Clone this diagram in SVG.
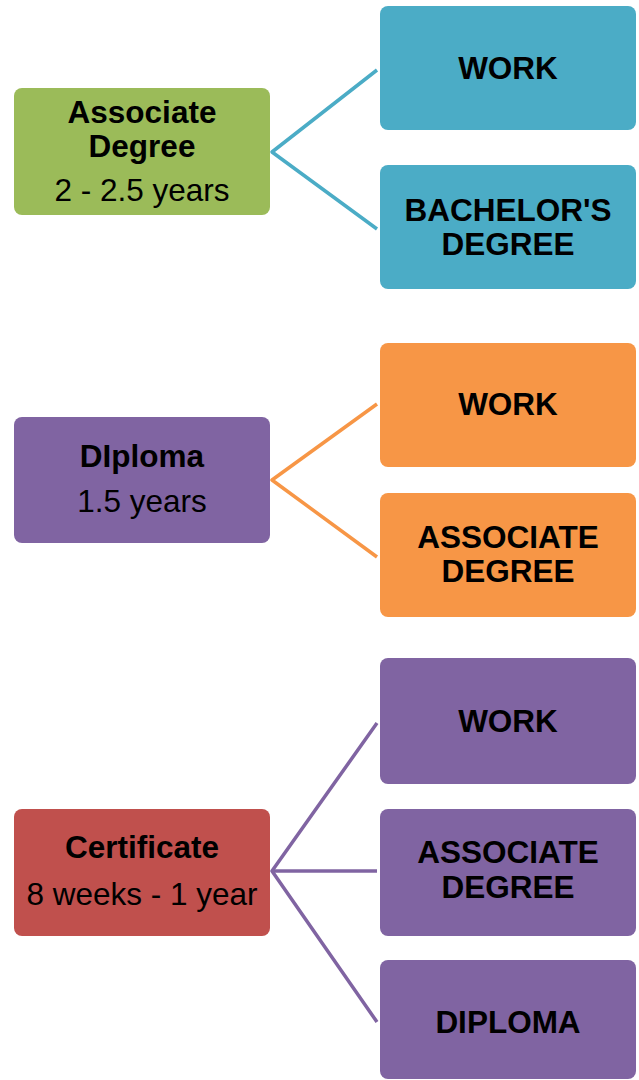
<svg xmlns="http://www.w3.org/2000/svg" width="639" height="1080" viewBox="0 0 639 1080">
<style>
.t{font-family:"Liberation Sans",Arial,sans-serif;fill:#000;text-anchor:middle}
.b{font-weight:bold;font-size:31.5px}
.r{font-size:31.5px}
.ln{fill:none;stroke-width:3.5;stroke-linejoin:round}
</style>
<rect width="639" height="1080" fill="#fff"/>
<g id="connectors">
<polyline class="ln" stroke="#4BACC6" points="377,70 272,152 377,229"/>
<polyline class="ln" stroke="#F79646" points="377,404 272,480 377,557"/>
<polyline class="ln" stroke="#8064A2" points="377,723 272,871 377,1022"/>
<line class="ln" stroke="#8064A2" x1="272" y1="871" x2="377" y2="871"/>
</g>
<g id="associate">
<rect x="14" y="88" width="256" height="127" rx="8" fill="#9BBB59"/>
<text class="t b" x="142" y="123">Associate</text>
<text class="t b" x="142" y="157">Degree</text>
<text class="t r" x="142" y="201">2 - 2.5 years</text>
</g>
<g id="assoc-work">
<rect x="380" y="6" width="256" height="124" rx="8" fill="#4BACC6"/>
<text class="t b" x="508" y="79">WORK</text>
</g>
<g id="assoc-bachelor">
<rect x="380" y="165" width="256" height="124" rx="8" fill="#4BACC6"/>
<text class="t b" x="508" y="221">BACHELOR'S</text>
<text class="t b" x="508" y="255">DEGREE</text>
</g>
<g id="diploma">
<rect x="14" y="417" width="256" height="126" rx="8" fill="#8064A2"/>
<text class="t b" x="142" y="467">DIploma</text>
<text class="t r" x="142" y="512">1.5 years</text>
</g>
<g id="diploma-work">
<rect x="380" y="343" width="256" height="124" rx="8" fill="#F79646"/>
<text class="t b" x="508" y="415">WORK</text>
</g>
<g id="diploma-associate">
<rect x="380" y="493" width="256" height="124" rx="8" fill="#F79646"/>
<text class="t b" x="508" y="548">ASSOCIATE</text>
<text class="t b" x="508" y="582">DEGREE</text>
</g>
<g id="certificate">
<rect x="14" y="809" width="256" height="127" rx="8" fill="#C0504D"/>
<text class="t b" x="142" y="858">Certificate</text>
<text class="t r" x="142" y="905">8 weeks - 1 year</text>
</g>
<g id="cert-work">
<rect x="380" y="658" width="256" height="126" rx="8" fill="#8064A2"/>
<text class="t b" x="508" y="732">WORK</text>
</g>
<g id="cert-associate">
<rect x="380" y="809" width="256" height="127" rx="8" fill="#8064A2"/>
<text class="t b" x="508" y="863">ASSOCIATE</text>
<text class="t b" x="508" y="898">DEGREE</text>
</g>
<g id="cert-diploma">
<rect x="380" y="960" width="256" height="119" rx="8" fill="#8064A2"/>
<text class="t b" x="508" y="1033">DIPLOMA</text>
</g>
</svg>
